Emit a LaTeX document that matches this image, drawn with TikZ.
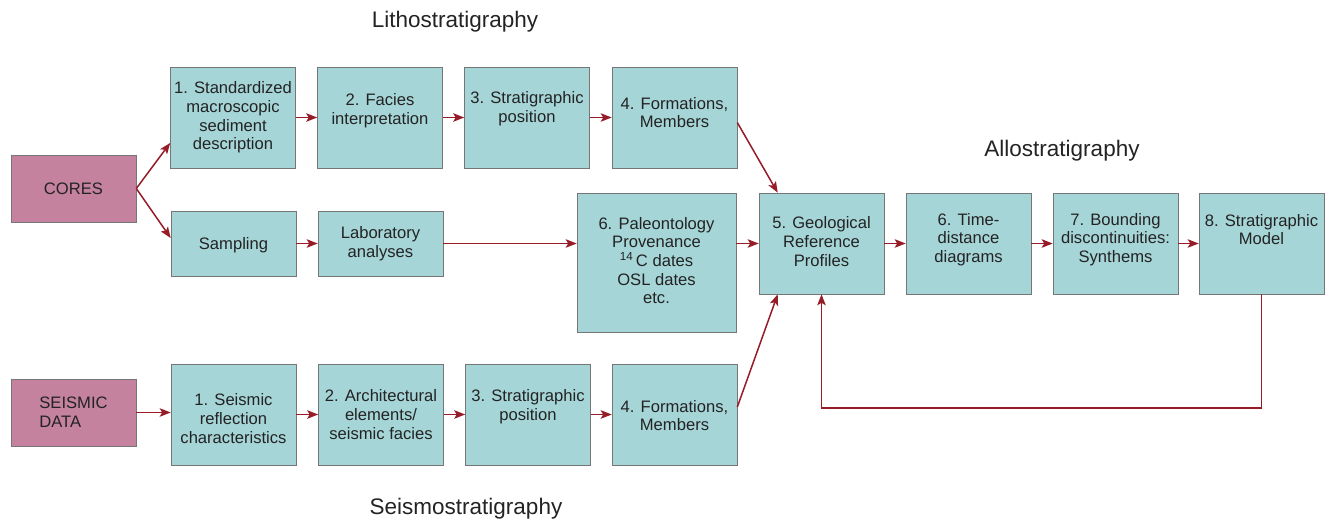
\documentclass[tikz,border=0pt]{standalone}
\usepackage{fontspec}
\setmainfont{Liberation Sans}
\usetikzlibrary{arrows.meta,calc}
\definecolor{boxblue}{RGB}{166,213,216}
\definecolor{boxpink}{RGB}{196,130,158}
\definecolor{boxline}{RGB}{118,118,118}
\definecolor{arrred}{RGB}{150,28,40}
\definecolor{txtgray}{RGB}{35,35,35}
\tikzset{
  bluebox/.style={draw=boxline, line width=0.6pt, fill=boxblue, minimum width=125pt, minimum height=101pt, inner sep=0pt},
  pinkbox/.style={draw=boxline, line width=0.6pt, fill=boxpink, minimum width=125pt, minimum height=67pt, inner sep=0pt},
  txt/.style={align=center, text=txtgray, inner sep=0pt, font=\fontsize{16.6}{18.6}\selectfont},
  title/.style={text=txtgray, inner sep=0pt, font=\fontsize{22.5}{27}\selectfont},
  arr/.style={draw=arrred, line width=1.5pt, -{Stealth[length=11pt,width=8.5pt,inset=2.5pt]}}
}
\begin{document}
\begin{tikzpicture}[x=1pt,y=-1pt]
\useasboundingbox (0,0) rectangle (1326,527);
% titles
\node[title] (lith) at (455,22) {Lithostratigraphy};
\node[title] (allo) at (1062,151) {Allostratigraphy};
\node[title] (seis) at (466,509) {Seismostratigraphy};
% source boxes
\node[pinkbox] (cores) at (73.5,188.5) {};
\node[txt] (corest) at (cores.center) {CORES};
\node[pinkbox] (sd) at (73.5,412.5) {};
\node[txt, align=left] (sdt) at (sd.center) {SEISMIC\\DATA};
% row 1
\node[bluebox] (a1) at (233,117.5) {};
\node[txt] (a1t) at (a1.center) {1. Standardized\\macroscopic\\sediment\\description};
\node[bluebox] (a2) at (380,117.5) {};
\node[txt] (a2t) at ([yshift=7pt]a2.center) {2. Facies\\interpretation};
\node[bluebox] (a3) at (527,117.5) {};
\node[txt] (a3t) at ([yshift=9pt]a3.center) {3. Stratigraphic\\position};
\node[bluebox] (a4) at (674.5,117.5) {};
\node[txt] (a4t) at ([yshift=5pt]a4.center) {4. Formations,\\Members};
% row 2
\node[bluebox, minimum height=65pt] (samp) at (233.5,243.5) {};
\node[txt] (sampt) at ([yshift=-2pt]samp.center) {Sampling};
\node[bluebox, minimum height=65pt] (lab) at (380.5,243.5) {};
\node[txt] (labt) at (lab.center) {Laboratory\\analyses};
\node[bluebox, minimum width=159pt, minimum height=139pt] (paleo) at (656.5,262.5) {};
\node[txt] (paleot) at ([yshift=2pt]paleo.center) {6. Paleontology\\Provenance\\\textsuperscript{14}\,C dates\\OSL dates\\etc.};
\node[bluebox] (geo) at (821.5,243.5) {};
\node[txt] (geot) at ([yshift=2pt]geo.center) {5. Geological\\Reference\\Profiles};
\node[bluebox] (time) at (968.5,243.5) {};
\node[txt] (timet) at ([yshift=4pt]time.center) {6. Time-\\distance\\diagrams};
\node[bluebox] (bound) at (1115.5,243.5) {};
\node[txt] (boundt) at ([yshift=4pt]bound.center) {7. Bounding\\discontinuities:\\Synthems};
\node[bluebox] (model) at (1261.5,243.5) {};
\node[txt] (modelt) at ([yshift=14pt]model.center) {8. Stratigraphic\\Model};
% row 3
\node[bluebox] (s1) at (233.5,414.5) {};
\node[txt] (s1t) at ([yshift=-4pt]s1.center) {1. Seismic\\reflection\\characteristics};
\node[bluebox] (s2) at (381,414.5) {};
\node[txt] (s2t) at (s2.center) {2. Architectural\\elements/\\seismic facies};
\node[bluebox] (s3) at (528,414.5) {};
\node[txt] (s3t) at ([yshift=8pt]s3.center) {3. Stratigraphic\\position};
\node[bluebox] (s4) at (674.5,414.5) {};
\node[txt] (s4t) at ([yshift=-1pt]s4.center) {4. Formations,\\Members};
% connectors
\draw[arr] (cores.east) -- ($(a1.south west)!0.25!(a1.north west)$);
\draw[arr] (cores.east) -- ([yshift=5.5pt]samp.west);
\draw[arr] (a1) -- (a2);
\draw[arr] (a2) -- (a3);
\draw[arr] (a3) -- (a4);
\draw[arr] ([yshift=-5pt]a4.east) -- ([xshift=19pt]geo.north west);
\draw[arr] (samp) -- (lab);
\draw[arr] (lab.east) -- (lab.east -| paleo.west);
\draw[arr] (geo.west -| paleo.east) -- (geo.west);
\draw[arr] (geo) -- (time);
\draw[arr] (time) -- (bound);
\draw[arr] (bound) -- (model);
\draw[arr] (sd.east) -- (sd.east -| s1.west);
\draw[arr] (s1) -- (s2);
\draw[arr] (s2) -- (s3);
\draw[arr] (s3) -- (s4);
\draw[arr] ([yshift=7.5pt]s4.east) -- ([xshift=19pt]geo.south west);
\coordinate (loop) at (821.5,408);
\draw[arr] (model.south) |- (loop) -- (geo.south);
\end{tikzpicture}
\end{document}
